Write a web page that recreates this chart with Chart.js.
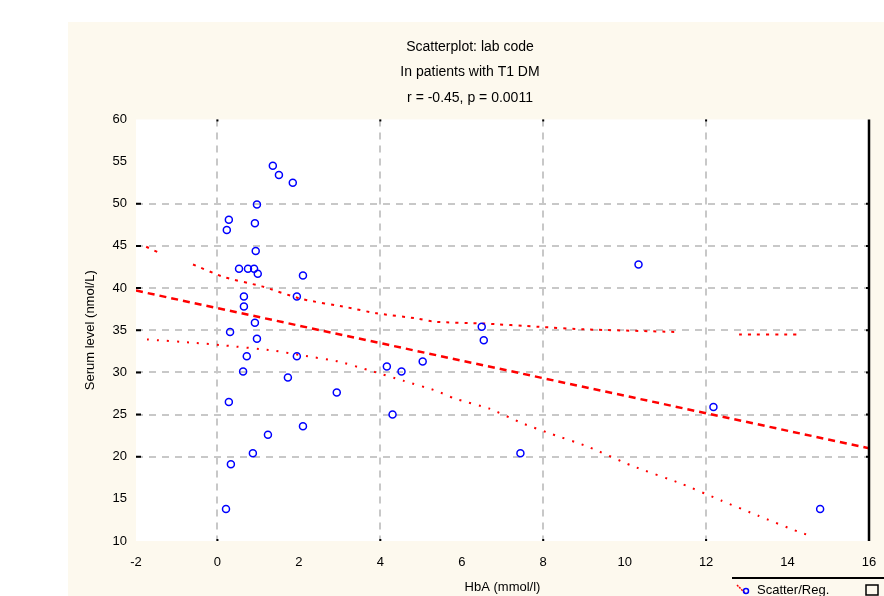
<!DOCTYPE html>
<html>
<head>
<meta charset="utf-8">
<script src="https://cdn.jsdelivr.net/npm/chart.js@4/dist/chart.umd.min.js"></script>
<style>
  html, body { margin: 0; padding: 0; background: #fff; }
  #wrap { width: 884px; height: 596px; }
</style>
</head>
<body>
<div id="wrap"><canvas id="graph" width="884" height="596"></canvas></div>
<script>
// observed points
const scatterX = [1.36, 1.51, 1.85, 0.97, 0.28, 0.23, 0.92, 0.94, 0.53, 0.75, 0.90, 0.99, 2.10, 0.65, 1.95,
  0.65, 0.92, 0.31, 0.97, 0.72, 1.95, 0.63, 1.73, 2.93, 0.28, 2.10, 1.24, 0.87, 0.33, 0.21,
  6.49, 6.54, 5.04, 4.16, 4.52, 4.30, 7.44, 10.34, 12.18, 14.80];
const scatterY = [54.5, 53.4, 52.5, 49.9, 48.1, 46.9, 47.7, 44.4, 42.3, 42.3, 42.3, 41.7, 41.5, 39.0, 39.0,
  37.8, 35.9, 34.8, 34.0, 31.9, 31.9, 30.1, 29.4, 27.6, 26.5, 23.6, 22.6, 20.4, 19.1, 13.8,
  35.4, 33.8, 31.3, 30.7, 30.1, 25.0, 20.4, 42.8, 25.9, 13.8];

// regression line
const fitX = [-2, 16];
const fitY = [39.7, 21.0];

// confidence band (upper / lower), null = gap
const upperX = [-1.75, -1.44, null, -0.60, 0.16, 1.09, 2.07, 3.20, 3.91, 4.89, 5.33, 6.51, 7.91, 9.01, 11.22, null, 12.81, 14.28];
const upperY = [44.9, 44.2, null, 42.8, 41.3, 40.2, 38.7, 37.7, 37.0, 36.4, 36.0, 35.8, 35.4, 35.1, 34.8, null, 34.5, 34.5];
const lowerX = [-1.73, -0.55, 0.16, 1.36, 2.10, 2.96, 3.69, 4.57, 5.38, 5.82, 6.68, 7.47, 8.20, 9.09, 10.19, 11.39, 12.37, 13.28, 14.26, 14.51];
const lowerY = [33.9, 33.5, 33.2, 32.6, 32.0, 31.3, 30.3, 29.0, 27.8, 26.9, 25.7, 24.0, 22.7, 21.2, 18.9, 16.8, 14.8, 13.0, 11.1, 10.7];

// grid lines that are drawn
const xGridValues = [0, 4, 8, 12];
const yGridValues = [20, 25, 30, 35, 40, 45, 50];

const titleLines = ["Scatterplot: lab code", "In patients with T1 DM", "r = -0.45, p = 0.0011"];
const xTitle = "HbA (mmol/l)";
const yTitle = "Serum level (nmol/L)";
const legendText = "Scatter/Reg.";

const toPoints = (xs, ys) => xs.map((x, i) => ({ x: x, y: ys[i] }));

const FONT = "'Liberation Sans', Arial, sans-serif";

// 背景とパネル
const panelPlugin = {
  id: "panel",
  beforeDraw(chart) {
    const { ctx, chartArea } = chart;
    ctx.save();
    ctx.fillStyle = "#ffffff";
    ctx.fillRect(0, 0, chart.width, chart.height);
    ctx.fillStyle = "#fdf9ee";
    ctx.fillRect(68, 22, chart.width - 68, chart.height - 22);
    ctx.fillStyle = "#ffffff";
    ctx.fillRect(chartArea.left, chartArea.top, chartArea.right - chartArea.left, chartArea.bottom - chartArea.top);
    ctx.restore();
  },
  afterDraw(chart) {
    const { ctx, chartArea, scales } = chart;
    ctx.save();
    // right frame line
    ctx.strokeStyle = "#000";
    ctx.lineWidth = 2.5;
    ctx.beginPath();
    ctx.moveTo(chartArea.right, chartArea.top);
    ctx.lineTo(chartArea.right, chartArea.bottom);
    ctx.stroke();
    // short black marks at grid ends
    ctx.lineWidth = 2;
    yGridValues.forEach((v) => {
      const py = scales.y.getPixelForValue(v);
      ctx.beginPath();
      ctx.moveTo(chartArea.left, py);
      ctx.lineTo(chartArea.left + 5, py);
      ctx.moveTo(chartArea.right - 3, py);
      ctx.lineTo(chartArea.right, py);
      ctx.stroke();
    });
    xGridValues.forEach((v) => {
      const px = scales.x.getPixelForValue(v);
      ctx.fillStyle = "#000";
      ctx.fillRect(px - 1, chartArea.bottom - 2, 2, 2);
      ctx.fillRect(px - 1, chartArea.top, 2, 2);
    });
    // legend (bottom right, cut off)
    ctx.lineWidth = 2;
    ctx.beginPath();
    ctx.moveTo(732, 578);
    ctx.lineTo(884, 578);
    ctx.stroke();
    ctx.strokeStyle = "#ff0000";
    ctx.lineWidth = 1.5;
    ctx.setLineDash([2, 1]);
    ctx.beginPath();
    ctx.moveTo(737, 585);
    ctx.lineTo(745, 593);
    ctx.stroke();
    ctx.setLineDash([]);
    ctx.strokeStyle = "#0000ff";
    ctx.beginPath();
    ctx.arc(746, 591, 2.5, 0, Math.PI * 2);
    ctx.stroke();
    ctx.fillStyle = "#000";
    ctx.font = "13px " + FONT;
    ctx.textBaseline = "middle";
    ctx.fillText(legendText, 757, 590);
    ctx.strokeStyle = "#000";
    ctx.lineWidth = 1.5;
    ctx.strokeRect(866, 585, 12, 10);
    ctx.restore();
  },
};

new Chart(document.getElementById("graph").getContext("2d"), {
  type: "scatter",
  data: {
    datasets: [
      {
        label: "points",
        data: toPoints(scatterX, scatterY),
        pointStyle: "circle",
        pointRadius: 3.5,
        pointBorderWidth: 1.5,
        pointBorderColor: "#0000ff",
        pointBackgroundColor: "rgba(0,0,0,0)",
        showLine: false,
      },
      {
        label: "fit",
        data: toPoints(fitX, fitY),
        showLine: true,
        borderColor: "#ff0000",
        borderWidth: 2.5,
        borderDash: [7, 5],
        pointRadius: 0,
      },
      {
        label: "upper",
        data: toPoints(upperX, upperY),
        showLine: true,
        spanGaps: false,
        borderColor: "#ff0000",
        borderWidth: 2,
        borderDash: [3, 6],
        pointRadius: 0,
        tension: 0.2,
      },
      {
        label: "lower",
        data: toPoints(lowerX, lowerY),
        showLine: true,
        borderColor: "#ff0000",
        borderWidth: 2,
        borderDash: [2, 8],
        pointRadius: 0,
        tension: 0.2,
      },
    ],
  },
  options: {
    responsive: false,
    animation: false,
    devicePixelRatio: 1,
    layout: { padding: { left: 71, right: 15, top: 20, bottom: 0 } },
    plugins: {
      legend: { display: false },
      tooltip: { enabled: false },
      title: {
        display: true,
        text: titleLines,
        color: "#000",
        font: { family: FONT, size: 14, weight: "normal", lineHeight: 1.82 },
        padding: { top: 14, bottom: 9 },
      },
    },
    scales: {
      x: {
        type: "linear",
        min: -2,
        max: 16,
        ticks: {
          stepSize: 2,
          color: "#000",
          padding: 0,
          maxRotation: 0,
          font: { family: FONT, size: 13 },
        },
        grid: {
          drawTicks: true,
          tickLength: 14,
          tickColor: "rgba(0,0,0,0)",
          lineWidth: 2,
          color: (c) => (c.tick && xGridValues.includes(c.tick.value) ? "#c8c8c8" : "rgba(0,0,0,0)"),
        },
        border: { display: false, dash: [7, 6] },
        title: {
          display: true,
          text: xTitle,
          color: "#000",
          font: { family: FONT, size: 13 },
          padding: { top: 0, bottom: 1 },
        },
        afterFit(scale) {
          scale.height = 55;
        },
      },
      y: {
        type: "linear",
        min: 10,
        max: 60,
        ticks: {
          stepSize: 5,
          color: "#000",
          padding: 9,
          font: { family: FONT, size: 13 },
        },
        grid: {
          drawTicks: false,
          lineWidth: 2,
          color: (c) => (c.tick && yGridValues.includes(c.tick.value) ? "#c8c8c8" : "rgba(0,0,0,0)"),
        },
        border: { display: false, dash: [7, 6] },
        title: {
          display: true,
          text: yTitle,
          color: "#000",
          font: { family: FONT, size: 13 },
          padding: { top: 12, bottom: 0 },
        },
        afterFit(scale) {
          scale.width = 65;
        },
      },
    },
  },
  plugins: [panelPlugin],
});
</script>
</body>
</html>
